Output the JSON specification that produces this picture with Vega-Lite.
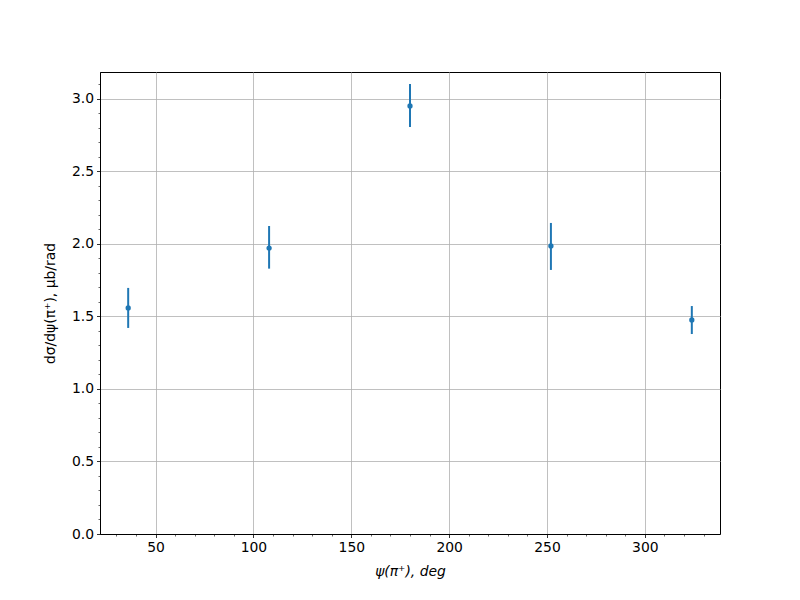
{
  "$schema": "https://vega.github.io/schema/vega-lite/v6.json",
  "width": 620,
  "height": 462,
  "autosize": "none",
  "padding": {"left": 100, "top": 72, "right": 80, "bottom": 66},
  "background": "white",
  "config": {
    "view": {"stroke": "black", "strokeWidth": 1},
    "font": "DejaVu Sans",
    "axis": {
      "labelFont": "DejaVu Sans",
      "titleFont": "DejaVu Sans",
      "labelFontSize": 13.9,
      "titleFontSize": 13.9,
      "titleFontWeight": "normal",
      "labelColor": "black",
      "titleColor": "black",
      "tickColor": "black",
      "domainColor": "black",
      "gridColor": "#b0b0b0",
      "gridWidth": 0.8,
      "gridOpacity": 1
    }
  },
  "data": {
    "values": [
      {"psi": 36, "y": 1.559, "lo": 1.421, "hi": 1.697},
      {"psi": 108, "y": 1.972, "lo": 1.830, "hi": 2.124},
      {"psi": 180, "y": 2.952, "lo": 2.807, "hi": 3.103},
      {"psi": 252, "y": 1.986, "lo": 1.821, "hi": 2.145},
      {"psi": 324, "y": 1.476, "lo": 1.379, "hi": 1.572}
    ]
  },
  "resolve": {"axis": {"x": "independent", "y": "independent"}},
  "layer": [
    {
      "mark": {"type": "rule", "color": "#1f77b4", "strokeWidth": 2},
      "encoding": {
        "x": {
          "field": "psi", "type": "quantitative",
          "scale": {"domain": [21.6, 338.4], "nice": false, "zero": false},
          "axis": {
            "orient": "bottom",
            "values": [30, 40, 60, 70, 80, 90, 110, 120, 130, 140, 160, 170, 180, 190, 210, 220, 230, 240, 260, 270, 280, 290, 310, 320, 330],
            "labels": false, "grid": false, "domain": false, "tickSize": 2, "tickWidth": 0.6, "title": null
          }
        },
        "y": {
          "field": "lo", "type": "quantitative",
          "scale": {"domain": [0, 3.186], "nice": false},
          "axis": {
            "orient": "left",
            "values": [0.1, 0.2, 0.3, 0.4, 0.6, 0.7, 0.8, 0.9, 1.1, 1.2, 1.3, 1.4, 1.6, 1.7, 1.8, 1.9, 2.1, 2.2, 2.3, 2.4, 2.6, 2.7, 2.8, 2.9, 3.1],
            "labels": false, "grid": false, "domain": false, "tickSize": 2, "tickWidth": 0.6, "title": null
          }
        },
        "y2": {"field": "hi"}
      }
    },
    {
      "mark": {"type": "point", "filled": true, "color": "#1f77b4", "size": 28, "opacity": 1},
      "encoding": {
        "x": {
          "field": "psi", "type": "quantitative",
          "axis": {
            "orient": "bottom", "grid": true,
            "values": [50, 100, 150, 200, 250, 300],
            "tickSize": 3.5, "tickWidth": 0.8, "labelPadding": 3,
            "title": "ψ(π⁺), deg", "titleFontStyle": "italic", "titlePadding": 10, "zindex": 0
          }
        },
        "y": {
          "field": "y", "type": "quantitative",
          "axis": {
            "orient": "left", "grid": true,
            "values": [0, 0.5, 1, 1.5, 2, 2.5, 3],
            "format": ".1f",
            "tickSize": 3.5, "tickWidth": 0.8, "labelPadding": 3,
            "title": "dσ/dψ(π⁺), μb/rad", "titlePadding": 14, "zindex": 0
          }
        }
      }
    }
  ]
}
